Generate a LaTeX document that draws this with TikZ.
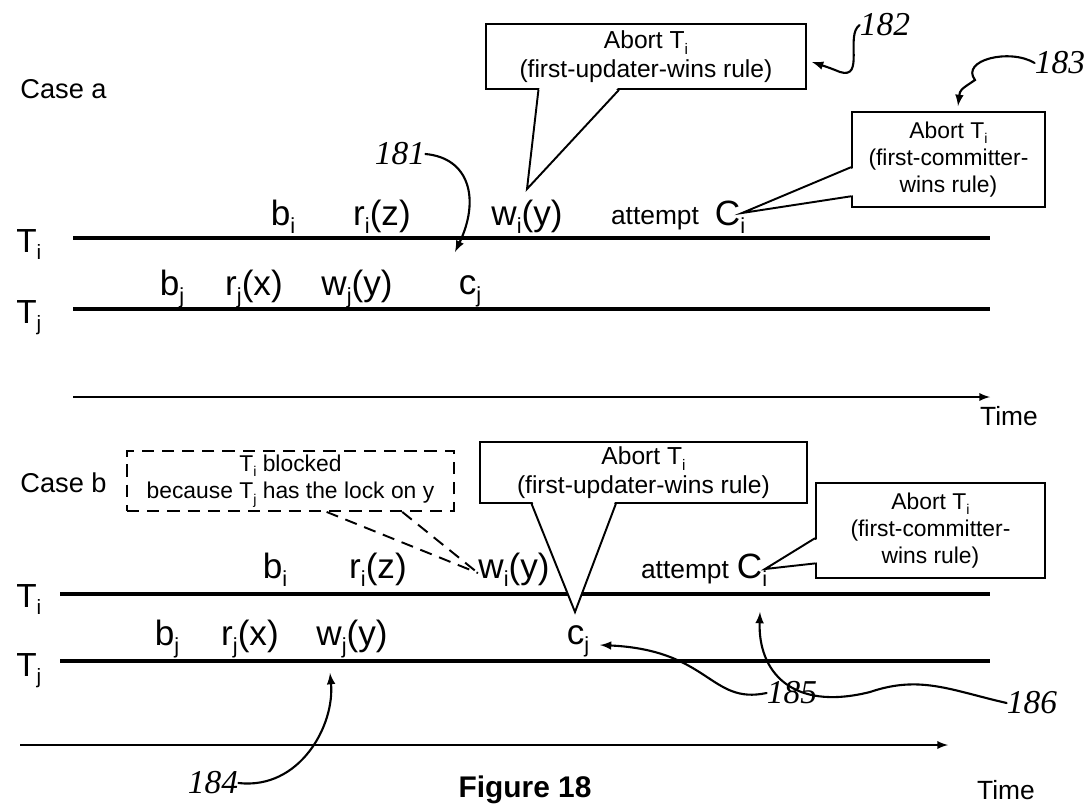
\documentclass[tikz,border=0pt]{standalone}
\usepackage{fontspec}
\setmainfont{Liberation Sans}
\newfontfamily\handfont{Liberation Serif}
\usetikzlibrary{calc}
\newcommand\sbs[1]{\raisebox{-0.45ex}{\scalebox{0.62}{#1}}}

\begin{document}
\begin{tikzpicture}[x=0.02cm,y=-0.02cm,>=latex,
    lifeline/.style={line width=2.3pt},
    timeaxis/.style={line width=1.1pt,->},
    oplab/.style={anchor=base,inner sep=0pt,font=\fontsize{20}{22}\selectfont},
    smalllab/.style={anchor=base,inner sep=0pt,font=\fontsize{15}{17}\selectfont},
    rowlab/.style={anchor=base west,inner sep=0pt,font=\fontsize{19}{20}\selectfont},
    caselab/.style={anchor=west,inner sep=0pt,font=\fontsize{15.5}{17}\selectfont},
    note/.style={draw,line width=1.1pt,fill=white,align=center,anchor=north west,
        inner sep=2pt,font=\fontsize{14}{16.5}\selectfont},
    tail/.style={line width=1.1pt,line join=miter},
    refnum/.style={inner sep=0pt,font=\handfont\itshape\fontsize{19}{20}\selectfont},
    refline/.style={line width=1.2pt,->,line cap=round}]
    \useasboundingbox (0,0) rectangle (1089,809);

    % Case a
    \node[caselab] (casea) at (20,89) {Case a};
    \node[rowlab] (tia) at (16,252) {T\sbs{i}};
    \node[rowlab] (tja) at (16,323) {T\sbs{j}};
    \draw[lifeline] (73,238) coordinate (tia0) -- (990,238) coordinate (tia1);
    \draw[lifeline] (73,309) coordinate (tja0) -- (990,309) coordinate (tja1);
    \draw[timeaxis] (73,397) coordinate (timea0) -- (990,397) coordinate (timea1);
    \node[smalllab] (timea) at (1009,425) {Time};

    \node[oplab] (bia) at (283,225) {b\sbs{i}};
    \node[oplab] (ria) at (382,225) {r\sbs{i}(z)};
    \node[oplab] (wia) at (527,225) {w\sbs{i}(y)};
    \node[smalllab] (atta) at (655,224) {attempt};
    \node[oplab] (cia) at (730,225) {C\sbs{i}};
    \node[oplab] (bja) at (172,295) {b\sbs{j}};
    \node[oplab] (rja) at (254,295) {r\sbs{j}(x)};
    \node[oplab] (wja) at (357,295) {w\sbs{j}(y)};
    \node[oplab] (cja) at (470,294) {c\sbs{j}};

    \node[note,minimum width=6.4cm,minimum height=1.3cm] (upda) at (485,23)
        {Abort T\sbs{i}\\(first-updater-wins rule)};
    \node[note,font=\fontsize{13}{15.5}\selectfont,minimum width=3.86cm,minimum height=1.9cm] (comma) at (851,111)
        {Abort T\sbs{i}\\(first-committer-\\wins rule)};

    \coordinate (tipua) at (527,189);
    \coordinate (p1) at ($(upda.south west)!0.166!(upda.south east)$);
    \coordinate (p2) at ($(upda.south west)!0.416!(upda.south east)$);
    \fill[white] ($(p1)+(1,-2)$) -- (tipua) -- ($(p2)+(-1,-2)$) -- cycle;
    \draw[tail] (p1) -- (tipua) -- (p2);

    \coordinate (tipca) at (742,213);
    \coordinate (p3) at ($(comma.north west)!0.58!(comma.south west)$);
    \coordinate (p4) at ($(comma.north west)!0.88!(comma.south west)$);
    \fill[white] ($(p3)+(2,1)$) -- (tipca) -- ($(p4)+(2,-1)$) -- cycle;
    \draw[tail] (p3) -- (tipca) -- (p4);

    % Case b
    \node[caselab] (caseb) at (20,483) {Case b};
    \node[rowlab] (tib) at (16,607) {T\sbs{i}};
    \node[rowlab] (tjb) at (16,676) {T\sbs{j}};
    \draw[lifeline] (60,594) coordinate (tib0) -- (990,594) coordinate (tib1);
    \draw[lifeline] (60,661) coordinate (tjb0) -- (990,661) coordinate (tjb1);
    \draw[timeaxis] (20,745) coordinate (timeb0) -- (948,745) coordinate (timeb1);
    \node[smalllab] (timeb) at (1006,799) {Time};

    \node[oplab] (bib) at (275,578) {b\sbs{i}};
    \node[oplab] (rib) at (378,578) {r\sbs{i}(z)};
    \node[oplab] (wib) at (514,578) {w\sbs{i}(y)};
    \node[smalllab] (attb) at (685,578) {attempt};
    \node[oplab] (cib) at (752,578) {C\sbs{i}};
    \node[oplab] (bjb) at (167,645) {b\sbs{j}};
    \node[oplab] (rjb) at (250,645) {r\sbs{j}(x)};
    \node[oplab] (wjb) at (352,645) {w\sbs{j}(y)};
    \node[oplab] (cjb) at (578,644) {c\sbs{j}};

    \node[note,font=\fontsize{13}{15.5}\selectfont,dashed,dash pattern=on 7pt off 4.5pt,
        minimum width=6.54cm,minimum height=1.2cm] (blockb) at (126,450)
        {T\sbs{i} blocked\\because T\sbs{j} has the lock on y};
    \node[note,minimum width=6.54cm,minimum height=1.22cm] (updb) at (479,441)
        {Abort T\sbs{i}\\(first-updater-wins rule)};
    \node[note,font=\fontsize{13}{15.5}\selectfont,minimum width=4.58cm,minimum height=1.9cm] (commb) at (815,482)
        {Abort T\sbs{i}\\(first-committer-\\wins rule)};

    \coordinate (tipbl) at (478,573);
    \draw[tail,dashed,dash pattern=on 7pt off 4.5pt] ($(blockb.south west)!0.61!(blockb.south east)$) -- (tipbl);
    \draw[tail,dashed,dash pattern=on 7pt off 4.5pt] ($(blockb.south west)!0.84!(blockb.south east)$) -- (tipbl);

    \coordinate (tipub) at (575,612);
    \coordinate (p5) at ($(updb.south west)!0.16!(updb.south east)$);
    \coordinate (p6) at ($(updb.south west)!0.416!(updb.south east)$);
    \fill[white] ($(p5)+(1,-2)$) -- (tipub) -- ($(p6)+(-1,-2)$) -- cycle;
    \draw[tail] (p5) -- (tipub) -- (p6);

    \coordinate (tipcb) at (765,569);
    \coordinate (p7) at ($(commb.north west)!0.58!(commb.south west)$);
    \coordinate (p8) at ($(commb.north west)!0.84!(commb.south west)$);
    \fill[white] ($(p7)+(2,1)$) -- (tipcb) -- ($(p8)+(2,-1)$) -- cycle;
    \draw[tail] (p7) -- (tipcb) -- (p8);

    \node[font=\bfseries\fontsize{17}{20}\selectfont] (fig) at (525,790) {Figure 18};

    % reference numerals
    \node[refnum] (n181) at (400,154) {181};
    \draw[refline] (n181.east) .. controls (470,158) and (480,200) .. (455,252);
    \node[refnum] (n182) at (885,25) {182};
    \draw[refline] (n182.west) .. controls (845,35) and (865,80) .. (840,72)
        .. controls (830,68) .. (812,62);
    \node[refnum] (n183) at (1060,63) {183};
    \draw[refline] (n183.west) .. controls (1010,48) and (960,60) .. (975,80)
        .. controls (960,90) .. (958,106);
    \node[refnum] (n184) at (213,783) {184};
    \draw[refline] (n184.east) .. controls (300,790) and (335,725) .. (330,673);
    \node[refnum] (n185) at (792,693) {185};
    \draw[refline] (n185.west) .. controls (710,705) and (710,650) .. (600,645);
    \node[refnum] (n186) at (1032,703) {186};
    \draw[refline] (n186.west) .. controls (950,690) and (920,675) .. (870,692)
        .. controls (790,712) and (758,670) .. (760,612);
\end{tikzpicture}
\end{document}
